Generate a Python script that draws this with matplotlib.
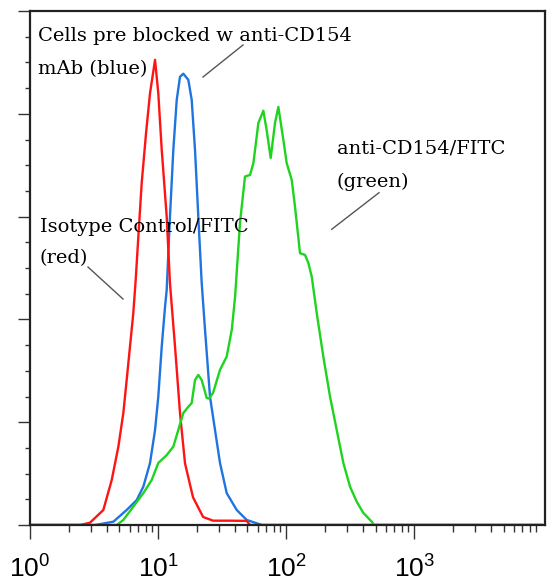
import matplotlib
matplotlib.use("Agg")
import matplotlib.pyplot as plt
from matplotlib.ticker import FixedLocator, NullFormatter, MultipleLocator

# ---- data ----
red_x = [1, 2.46, 2.94, 3.74, 4.35, 4.90, 5.36, 5.69, 6.04, 6.41, 6.69, 7.02, 7.46, 8.06, 8.66,
         9.48, 10.05, 10.69, 11.69, 12.4, 13.58, 14.85, 16.25, 18.76, 22.5, 26.9, 36.5, 49.3, 52.3, 10000]
red_y = [0, 0, 2.2, 14.6, 43.8, 76.2, 109, 141, 173.5, 206, 238, 280.5, 333, 381, 420,
         452.5, 420, 365, 300, 235, 173.5, 109, 60, 27, 7.8, 4.2, 4.2, 4.0, 0, 0]

blue_x = [1, 3.22, 4.48, 5.69, 6.82, 7.68, 8.66, 9.48, 10.05, 10.69, 11.35, 11.69, 12.4, 13.17,
          14.0, 14.85, 15.77, 17.25, 18.33, 19.45, 20.64, 21.94, 23.29, 25.48, 27.88, 30.5,
          34.4, 41.2, 49.3, 64.9, 10000]
blue_y = [0, 0, 3.2, 14.6, 24.3, 37.3, 60.3, 92.4, 124.8, 173.5, 212.4, 228.7, 300, 365,
          413.5, 436, 439, 433, 413.5, 365, 300, 235.5, 190, 124.8, 92.4, 60.3,
          31, 14.6, 4.9, 0, 0]

green_x = [1, 4.76, 5.36, 6.41, 7.68, 8.93, 10.05, 11.69, 13.17, 14.4, 15.77, 17.25, 18.33, 19.45,
           20.64, 21.94, 24.0, 25.0, 26.9, 30.5, 34.4, 37.7, 40.0, 43.7, 47.8, 52.3, 55.6, 60.8,
           66.5, 70.6, 75.9, 82.0, 87.1, 95.3, 101.2, 110.8, 117.5, 128.6, 140.7, 149.3, 158.8,
           173.8, 195.6, 220.7, 248.9, 280.5, 316.2, 356.6, 401.8, 467.7, 487, 10000]
green_y = [0, 0, 4.9, 17.8, 31, 43.8, 60.3, 68, 76.2, 92.4, 109, 115, 118.7, 141,
           146, 141, 123.6, 123, 128.4, 151, 163.8, 190, 222, 294, 339, 340.5, 352, 391,
           403, 384, 357, 391, 406.7, 374.6, 352, 335.7, 309.7, 264.4, 262.7, 255, 241.6,
           206, 163.8, 124.8, 92.4, 60.3, 37.3, 22.7, 11.7, 3.2, 0, 0]

x_major = [1, 10, 100, 1000]
x_labels = [r"$\mathregular{10^{0}}$", r"$\mathregular{10^{1}}$",
            r"$\mathregular{10^{2}}$", r"$\mathregular{10^{3}}$"]
x_minor = [m * d for d in (1, 10, 100, 1000) for m in range(2, 10)]

# ---- figure ----
W, H = 548, 583
fig = plt.figure(figsize=(W / 100, H / 100), dpi=100)
fig.patch.set_facecolor("white")
ax = fig.add_axes([30 / W, 1 - 525 / H, 515 / W, 514 / H])

ax.plot(blue_x, blue_y, color="#1f74e0", lw=1.7, solid_joinstyle="round")
ax.plot(red_x, red_y, color="#ff1414", lw=1.7, solid_joinstyle="round")
ax.plot(green_x, green_y, color="#1ed41e", lw=1.7, solid_joinstyle="round")

ax.set_xscale("log")
ax.set_xlim(1, 10 ** 4.023)
ax.set_ylim(0, 500)

ax.xaxis.set_major_locator(FixedLocator(x_major))
ax.xaxis.set_minor_locator(FixedLocator(x_minor))
ax.xaxis.set_minor_formatter(NullFormatter())
ax.set_xticklabels(x_labels, fontfamily="Liberation Sans", fontsize=19)

ax.yaxis.set_major_locator(MultipleLocator(100))
ax.yaxis.set_minor_locator(MultipleLocator(25))
ax.set_yticklabels([])

ax.tick_params(axis="x", which="major", direction="out", length=10, width=1.0,
               color="#333333", pad=12)
ax.tick_params(axis="x", which="minor", direction="out", length=5, width=1.0, color="#333333")
ax.tick_params(axis="y", which="major", direction="out", length=8.6, width=1.0, color="#333333")
ax.tick_params(axis="y", which="minor", direction="out", length=3.6, width=1.0, color="#333333")

for s in ax.spines.values():
    s.set_linewidth(1.6)
    s.set_color("#222222")

# ---- annotations ----
tkw = dict(transform=ax.transAxes, fontfamily="DejaVu Serif", fontsize=14,
           color="#000000", va="baseline", ha="left")
ax.text(0.0155, 0.9416, "Cells pre blocked w anti-CD154", **tkw)
ax.text(0.0155, 0.8774, "mAb (blue)", **tkw)
ax.text(0.0194, 0.5706, "Isotype Control/FITC", **tkw)
ax.text(0.0194, 0.5091, "(red)", **tkw)
ax.text(0.596, 0.7237, "anti-CD154/FITC", **tkw)
ax.text(0.596, 0.6576, "(green)", **tkw)

lkw = dict(transform=ax.transAxes, color="#555555", lw=1.0)
ax.plot([0.3359, 0.4136], [0.8716, 0.9339], **lkw)
ax.plot([0.5858, 0.6777], [0.5753, 0.6465], **lkw)
ax.plot([0.1126, 0.1806], [0.5019, 0.4397], **lkw)

fig.savefig("out.png", dpi=100, facecolor="white")
